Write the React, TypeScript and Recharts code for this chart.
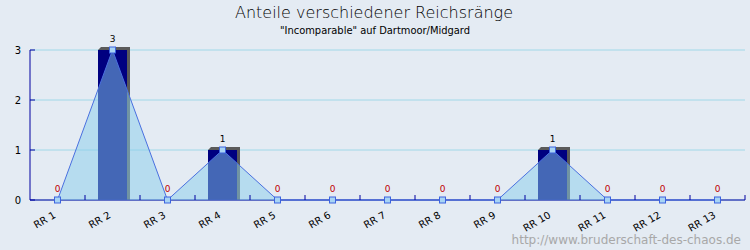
import React from "react";
import {
  ComposedChart,
  Bar,
  Area,
  XAxis,
  YAxis,
  CartesianGrid,
  LabelList,
} from "recharts";

const categories = [
  "RR 1", "RR 2", "RR 3", "RR 4", "RR 5", "RR 6", "RR 7",
  "RR 8", "RR 9", "RR 10", "RR 11", "RR 12", "RR 13",
];
const values = [0, 3, 0, 1, 0, 0, 0, 0, 0, 1, 0, 0, 0];
const yTicks = [0, 1, 2, 3];

const title = "Anteile verschiedener Reichsränge";
const subtitle = "\"Incomparable\" auf Dartmoor/Midgard";
const watermark = "http://www.bruderschaft-des-chaos.de";

const data = categories.map((name, i) => ({ name, value: values[i] }));

const W = 750;
const H = 250;
const MARGIN = { top: 50, right: 5, bottom: 0, left: 0 };
const Y_AXIS_W = 30;
const PLOT_W = W - MARGIN.left - MARGIN.right - Y_AXIS_W;
const BAND = PLOT_W / categories.length;
const AXIS_COLOR = "#0000a0";
const FONT = "'DejaVu Sans', Verdana, sans-serif";

if (typeof document !== "undefined") {
  document.body.style.margin = "0";
  document.body.style.background = "#e4ebf3";
}

const XTick = (props: any) => {
  const { x, y, payload } = props;
  return (
    <g>
      <line x1={x + BAND / 2} y1={y} x2={x + BAND / 2} y2={y - 5} stroke={AXIS_COLOR} strokeWidth={1} />
      <text
        transform={`translate(${x - 1},${y + 17}) rotate(-30)`}
        textAnchor="end"
        fontSize={10}
        fontFamily={FONT}
        fill="#000"
      >
        {payload.value}
      </text>
    </g>
  );
};

const YTick = (props: any) => {
  const { x, y, payload } = props;
  return (
    <g>
      <line x1={x} y1={y} x2={x + 5} y2={y} stroke={AXIS_COLOR} strokeWidth={1} />
      <text x={x - 9} y={y} dy={3.5} textAnchor="end" fontSize={10} fontFamily={FONT} fill="#000">
        {payload.value}
      </text>
    </g>
  );
};

const BarShape = (props: any) => {
  const { x, y, width, height } = props;
  if (!height || height <= 0) return <g />;
  const d = 3;
  const pts = [
    [x, y],
    [x + d, y - d],
    [x + width + d, y - d],
    [x + width + d, y + height],
    [x + width, y + height],
  ]
    .map((p) => p.join(","))
    .join(" ");
  return (
    <g>
      <polygon points={pts} fill="#5a5a5a" />
      <rect x={x} y={y} width={width} height={height} fill="#000080" />
    </g>
  );
};

const SquareDot = (props: any) => {
  const { cx, cy, index } = props;
  if (cx == null || cy == null) return <g key={index} />;
  return (
    <rect
      key={index}
      x={cx - 3}
      y={cy - 3}
      width={6}
      height={6}
      fill="#a8d4f4"
      stroke="#3c64e0"
      strokeWidth={1}
    />
  );
};

const ValueLabel = (props: any) => {
  const { x, y, value } = props;
  if (x == null || y == null) return null;
  return (
    <text
      x={x}
      y={y - 8}
      textAnchor="middle"
      fontSize={9}
      fontFamily={FONT}
      fill={value === 0 ? "#c00000" : "#000"}
    >
      {value}
    </text>
  );
};

export default function App() {
  return (
    <div style={{ position: "relative", width: W, height: H, background: "#e4ebf3" }}>
      <ComposedChart width={W} height={H} data={data} margin={MARGIN}>
        <CartesianGrid vertical={false} stroke="#a0d8e8" strokeWidth={1} />
        <XAxis
          dataKey="name"
          interval={0}
          height={50}
          tickSize={0}
          tickMargin={0}
          tickLine={false}
          axisLine={{ stroke: AXIS_COLOR, strokeWidth: 1 }}
          tick={<XTick />}
        />
        <YAxis
          width={Y_AXIS_W}
          domain={[0, 3]}
          ticks={yTicks}
          interval={0}
          tickSize={0}
          tickMargin={0}
          tickLine={false}
          axisLine={{ stroke: AXIS_COLOR, strokeWidth: 1 }}
          tick={<YTick />}
        />
        <Bar dataKey="value" barSize={29} shape={<BarShape />} isAnimationActive={false} zIndex={100} />
        <Area
          type="linear"
          dataKey="value"
          stroke="#4a70e0"
          strokeWidth={1}
          fill="#87CEEB"
          fillOpacity={0.5}
          dot={<SquareDot />}
          activeDot={false}
          isAnimationActive={false}
          zIndex={500}
        >
          <LabelList dataKey="value" content={<ValueLabel />} />
        </Area>
      </ComposedChart>
      <svg
        width={W}
        height={H}
        style={{ position: "absolute", left: 0, top: 0, pointerEvents: "none" }}
      >
        <text x={374} y={18} textAnchor="middle" fontSize={16} fontFamily={FONT} fontWeight={300} fill="#000">
          {title}
        </text>
        <text
          x={375}
          y={34}
          textAnchor="middle"
          fontSize={11}
          fontFamily="'DejaVu Sans Condensed', 'DejaVu Sans', sans-serif"
          style={{ fontStretch: "condensed" }}
          fill="#000"
        >
          {subtitle}
        </text>
        <text x={741} y={244} textAnchor="end" fontSize={12} fontFamily={FONT} fill="#a8a8a8">
          {watermark}
        </text>
      </svg>
    </div>
  );
}
